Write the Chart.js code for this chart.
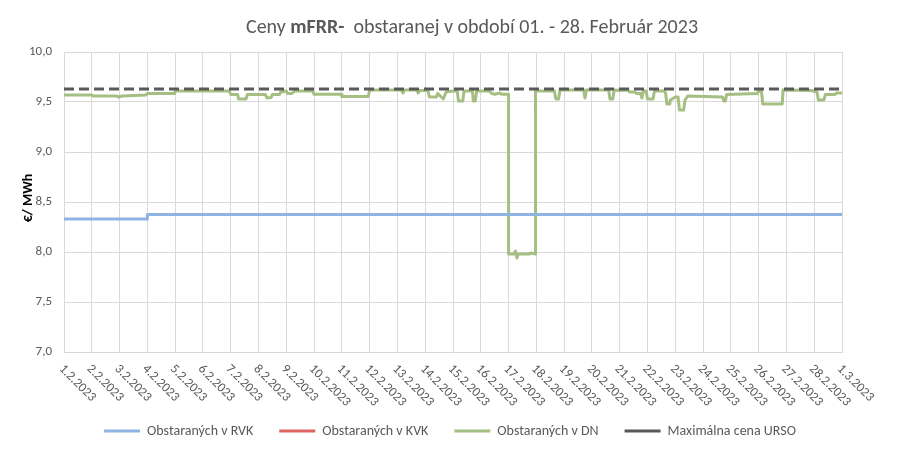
<!DOCTYPE html>
<html lang="sk">
<head>
  <meta charset="UTF-8" />
  <title>Ceny mFRR- Február 2023</title>
  <script src="https://cdn.jsdelivr.net/npm/chart.js"></script>
  <style>
    html, body { margin: 0; padding: 0; background: #fff; }
    #wrap { width: 900px; height: 452px; }
  </style>
</head>
<body>
<div id="wrap"><canvas id="mfrrChart" width="900" height="452"></canvas></div>
<script>
  // x = day offset from 1.2.2023 (0) to 1.3.2023 (28)
  const xLabels = ['1.2.2023','2.2.2023','3.2.2023','4.2.2023','5.2.2023','6.2.2023','7.2.2023',
    '8.2.2023','9.2.2023','10.2.2023','11.2.2023','12.2.2023','13.2.2023','14.2.2023','15.2.2023',
    '16.2.2023','17.2.2023','18.2.2023','19.2.2023','20.2.2023','21.2.2023','22.2.2023','23.2.2023',
    '24.2.2023','25.2.2023','26.2.2023','27.2.2023','28.2.2023','1.3.2023'];

  const rvkX = [0, 3, 3, 28];
  const rvkY = [8.33, 8.33, 8.375, 8.375];

  const kvkX = [];
  const kvkY = [];

  const dnX = [0, 1.0, 1.05, 1.9, 1.95, 2.1, 2.95, 3.0, 3.98, 4.0, 5.95, 6.0, 6.25, 6.28, 6.55, 6.6,
    7.25, 7.3, 7.45, 7.5, 7.75, 7.8, 8.0, 8.05, 8.2, 8.3, 8.95, 9.0, 9.97, 10.0, 10.95, 11.0,
    12.15, 12.2, 12.25, 12.7, 12.75, 12.8, 13.1, 13.15, 13.4, 13.45, 13.65, 13.75, 14.0, 14.15,
    14.2, 14.35, 14.4, 14.7, 14.73, 14.8, 14.85, 15.3, 15.4, 15.5, 15.7, 15.75, 16.0, 16.0,
    16.2, 16.25, 16.3, 16.35, 16.75, 16.8, 16.97, 16.97, 17.65, 17.7, 17.8, 17.85, 18.7, 18.75,
    18.8, 19.6, 19.65, 19.75, 19.8, 20.0, 20.3, 20.35, 20.55, 20.6, 20.75, 20.8, 20.85, 20.95,
    21.0, 21.2, 21.25, 21.6, 21.65, 21.7, 21.8, 21.82, 22.0, 22.1, 22.15, 22.3, 22.35, 22.45,
    23.7, 23.75, 23.8, 23.85, 24.95, 25.0, 25.1, 25.15, 25.85, 25.88, 26.9, 27.1, 27.15, 27.35,
    27.4, 27.75, 27.8, 28.0];
  const dnY = [9.57, 9.57, 9.56, 9.56, 9.55, 9.56, 9.57, 9.585, 9.585, 9.61, 9.61, 9.575, 9.575, 9.53, 9.53, 9.575,
    9.575, 9.54, 9.545, 9.575, 9.575, 9.6, 9.61, 9.585, 9.585, 9.61, 9.61, 9.577, 9.577, 9.555, 9.555, 9.62,
    9.62, 9.59, 9.62, 9.62, 9.59, 9.615, 9.615, 9.55, 9.55, 9.585, 9.53, 9.6, 9.61, 9.61,
    9.51, 9.51, 9.61, 9.61, 9.51, 9.51, 9.61, 9.61, 9.585, 9.577, 9.59, 9.577, 9.577, 7.98,
    7.98, 8.01, 7.94, 7.98, 7.98, 7.99, 7.98, 9.61, 9.61, 9.53, 9.53, 9.62, 9.62, 9.54,
    9.62, 9.62, 9.53, 9.53, 9.62, 9.615, 9.62, 9.6, 9.6, 9.585, 9.585, 9.54, 9.61, 9.61,
    9.53, 9.53, 9.61, 9.61, 9.59, 9.48, 9.48, 9.52, 9.55, 9.55, 9.42, 9.42, 9.52, 9.56,
    9.55, 9.51, 9.51, 9.575, 9.585, 9.61, 9.61, 9.48, 9.48, 9.62, 9.615, 9.6, 9.52, 9.52,
    9.575, 9.575, 9.59, 9.59];

  const ursoX = [0, 28];
  const ursoY = [9.63, 9.63];

  const FONT = "Carlito, Lato, 'Liberation Sans', sans-serif";
  const TXT = '#595959';

  const pts = (xs, ys) => xs.map((x, i) => ({ x: x, y: ys[i] }));

  const extras = {
    id: 'extras',
    afterLayout(chart) {
      // centre the legend on the whole canvas, not only the padded area
      chart.legend.left = 0;
      chart.legend.right = chart.width;
    },
    afterDraw(chart) {
      const ctx = chart.ctx;
      const area = chart.chartArea;
      const xs = chart.scales.x;
      ctx.save();
      ctx.fillStyle = TXT;

      // title with bold part
      const parts = [
        { t: 'Ceny ', b: false },
        { t: 'mFRR-', b: true },
        { t: '  obstaranej v období 01. - 28. Február 2023', b: false }
      ];
      let total = 0;
      parts.forEach(p => {
        ctx.font = (p.b ? 'bold ' : '') + '20px ' + FONT;
        p.w = ctx.measureText(p.t).width;
        total += p.w;
      });
      let tx = 472 - total / 2;
      ctx.textBaseline = 'middle';
      ctx.textAlign = 'left';
      parts.forEach(p => {
        ctx.font = (p.b ? 'bold ' : '') + '20px ' + FONT;
        ctx.fillText(p.t, tx, 28);
        tx += p.w;
      });

      // y axis title
      ctx.save();
      ctx.fillStyle = '#000';
      ctx.translate(28, 198);
      ctx.rotate(-Math.PI / 2);
      ctx.textAlign = 'center';
      ctx.font = 'bold 14px ' + FONT;
      ctx.fillText('€/ MWh', 0, 0);
      ctx.restore();

      // rotated date labels
      ctx.font = '13px ' + FONT;
      xLabels.forEach((lab, i) => {
        const px = xs.getPixelForValue(i);
        ctx.save();
        ctx.translate(px - 3, area.bottom + 15);
        ctx.rotate(Math.PI / 4);
        ctx.textAlign = 'left';
        ctx.textBaseline = 'middle';
        ctx.fillText(lab, 0, 0);
        ctx.restore();
      });
      ctx.restore();
    }
  };

  new Chart(document.getElementById('mfrrChart'), {
    type: 'line',
    data: {
      datasets: [
        { label: 'Obstaraných v RVK', data: pts(rvkX, rvkY), borderColor: '#8fb4e3', backgroundColor: '#8fb4e3', borderWidth: 3, order: 1 },
        { label: 'Obstaraných v KVK', data: pts(kvkX, kvkY), borderColor: '#dc6461', backgroundColor: '#dc6461', borderWidth: 3, order: 1 },
        { label: 'Obstaraných v DN', data: pts(dnX, dnY), borderColor: '#a5bf82', backgroundColor: '#a5bf82', borderWidth: 3, order: 1 },
        { label: 'Maximálna cena URSO', data: pts(ursoX, ursoY), borderColor: '#595959', backgroundColor: '#595959', borderWidth: 3, borderDash: [10, 5], order: 0 }
      ]
    },
    options: {
      responsive: false,
      animation: false,
      events: [],
      elements: { point: { radius: 0 }, line: { tension: 0, borderJoinStyle: 'round' } },
      layout: { padding: { top: 52, right: 58, bottom: 4, left: 0 } },
      plugins: {
        legend: {
          position: 'bottom',
          labels: {
            usePointStyle: true,
            pointStyle: 'line',
            pointStyleWidth: 36,
            color: TXT,
            padding: 26,
            font: { family: FONT, size: 14 },
            sort: (a, b) => a.datasetIndex - b.datasetIndex
          }
        },
        title: { display: false },
        tooltip: { enabled: false }
      },
      scales: {
        x: {
          type: 'linear',
          min: 0,
          max: 28,
          ticks: { display: false, stepSize: 1 },
          grid: { color: '#d9d9d9', drawTicks: false },
          border: { color: '#d9d9d9' },
          afterFit: s => { s.height = 46; }
        },
        y: {
          min: 7,
          max: 10,
          ticks: {
            stepSize: 0.5,
            padding: 12,
            color: TXT,
            font: { family: FONT, size: 13 },
            callback: v => v.toFixed(1).replace('.', ',')
          },
          grid: { color: '#d9d9d9', drawTicks: false },
          border: { color: '#d9d9d9' },
          afterFit: s => { s.width = 64; }
        }
      }
    },
    plugins: [extras]
  });
</script>
</body>
</html>
